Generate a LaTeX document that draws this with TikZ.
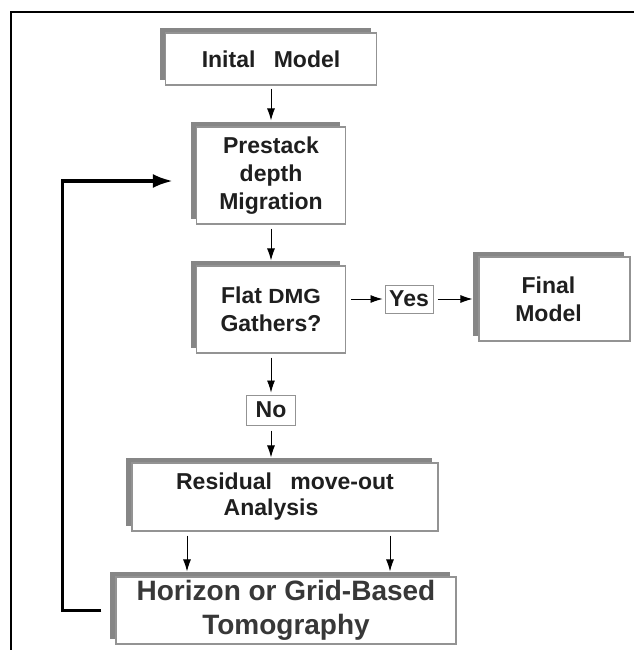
\documentclass[tikz,border=0pt]{standalone}
\usepackage{fontspec}
\setmainfont{Liberation Sans}
\newfontfamily\widefont[FakeStretch=1.1]{Liberation Sans}
\usetikzlibrary{arrows.meta,shadows}

\begin{document}
\begin{tikzpicture}[x=1pt,y=-1pt,
    stage/.style={draw=gray!85,line width=1.2pt,fill=white,inner sep=0pt,align=center,
      text=black!88,font=\bfseries\fontsize{23}{28}\selectfont,
      drop shadow={shadow xshift=-6pt,shadow yshift=5pt,fill=gray!95,opacity=1}},
    tag/.style={draw=gray!85,line width=1pt,fill=white,inner sep=0pt,
      text=black!88,font=\bfseries\fontsize{23}{28}\selectfont},
    flow/.style={-{Latex[length=12pt,width=8pt]},line width=0.8pt},
    back/.style={-{Latex[length=20pt,width=14pt]},line width=3.5pt}]
  \useasboundingbox (0,0) rectangle (634,650);
  \draw[line width=2.2pt] (11,650) -- (11,12) -- (634,12);

  % main chain
  \node[stage,minimum width=211pt,minimum height=52pt] (init) at (271,59) {Inital\hspace{12pt} Model};
  \node[stage,minimum width=149pt,minimum height=97pt] (pstm) at (271,175.5) {Prestack\\depth\\Migration};
  \node[stage,minimum width=149pt,minimum height=87pt] (flat) at (271,309.5) {Flat {\widefont\fontsize{20.5}{28}\selectfont DMG}\\Gathers?};
  \node[tag,minimum width=48pt,minimum height=28pt] (yes) at (409,299) {Yes};
  \node[stage,minimum width=151pt,minimum height=84pt] (final) at (554.5,299) {Final\hspace*{12pt}\\Model\hspace*{12pt}};
  \node[tag,minimum width=49pt,minimum height=30pt] (no) at (271,410) {No};
  \node[stage,minimum width=306pt,minimum height=68pt,font=\bfseries\fontsize{23}{26}\selectfont] (resid) at (285,497) {Residual\hspace{12pt} move-out\\Analysis\hspace*{28pt}};
  \node[stage,minimum width=340pt,minimum height=67pt,text=black!78,font=\bfseries\fontsize{28}{34}\selectfont] (tomo) at (286,610.5) {Horizon or Grid-Based\\Tomography};

  \draw[flow,shorten <=3pt,shorten >=6pt] (init) -- (pstm);
  \draw[flow,shorten <=4pt,shorten >=5pt] (pstm) -- (flat);
  \draw[flow,shorten <=5pt,shorten >=2pt] (flat.east |- yes.west) -- (yes.west);
  \draw[flow,shorten <=4pt,shorten >=6pt] (yes) -- (final);
  \draw[flow,shorten <=4pt,shorten >=2pt] (flat) -- (no);
  \draw[flow,shorten <=5pt,shorten >=5pt] (no.south) -- (no.south |- resid.north);
  \draw[flow,shorten <=4pt,shorten >=5pt] ([xshift=-98pt]resid.south) -- ([xshift=-98pt]resid.south |- tomo.north);
  \draw[flow,shorten <=4pt,shorten >=5pt] ([xshift=105pt]resid.south) -- ([xshift=105pt]resid.south |- tomo.north);

  % loop back to migration
  \draw[back,shorten <=14pt,shorten >=23pt] (tomo.west) -- ++(-53,0) |- ([yshift=-5.5pt]pstm.west);
\end{tikzpicture}
\end{document}
